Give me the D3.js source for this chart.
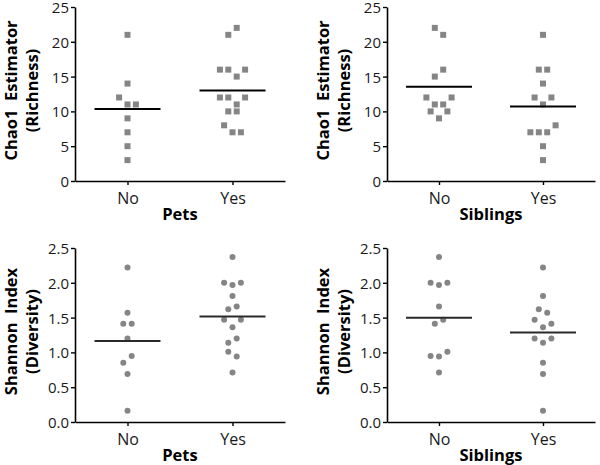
<!DOCTYPE html>
<html>
<head>
<meta charset="utf-8">
<script src="https://cdn.jsdelivr.net/npm/d3@7"></script>
<style>
  html, body { margin: 0; padding: 0; background: #fff; }
  svg { display: block; }
  text { font-family: "Open Sans", "Noto Sans", sans-serif; }
</style>
</head>
<body>
<svg id="chart" width="600" height="465"></svg>
<script>
// ---------- data ----------
const categories = ["No", "Yes"];

// Chao1 richness, grouped by pets
const chaoPetsNo  = [21, 14, 12, 11, 11, 9, 7, 5, 3];
const chaoPetsYes = [21, 22, 16, 16, 15, 16, 12, 12, 11, 12, 10, 10, 8, 7, 7];
// Chao1 richness, grouped by siblings
const chaoSibNo   = [22, 21, 15, 16, 12, 11, 11, 12, 10, 9, 10];
const chaoSibYes  = [21, 16, 16, 14, 12, 11, 12, 7, 7, 7, 8, 5, 3];

// Shannon diversity, grouped by pets
const shanPetsNo  = [2.22, 1.57, 1.41, 1.41, 1.20, 0.85, 0.95, 0.69, 0.16];
const shanPetsYes = [2.37, 2.00, 1.97, 2.00, 1.81, 1.62, 1.66, 1.47, 1.36, 1.47, 1.14, 1.20, 1.01, 0.94, 0.71];
// Shannon diversity, grouped by siblings
const shanSibNo   = [2.37, 2.00, 1.97, 2.00, 1.66, 1.41, 1.47, 0.95, 0.94, 1.01, 0.71];
const shanSibYes  = [2.22, 1.81, 1.62, 1.57, 1.47, 1.36, 1.41, 1.20, 1.14, 1.20, 0.85, 0.69, 0.16];

const chaoTicks = [0, 5, 10, 15, 20, 25];
const shanTicks = [0, 0.5, 1.0, 1.5, 2.0, 2.5];

const chaoTitle = ["Chao1  Estimator", "(Richness)"];
const shanTitle = ["Shannon  Index", "(Diversity)"];
const petsLabel = "Pets";
const sibLabel = "Siblings";

// ---------- layout ----------
const panels = [
  { left: 75,  right: 285, top: 7,   bottom: 181, groups: [chaoPetsNo, chaoPetsYes], ticks: chaoTicks, fmt: d3.format("d"),  ytitle: chaoTitle, xtitle: petsLabel, shape: "square" },
  { left: 387, right: 595, top: 7,   bottom: 181, groups: [chaoSibNo, chaoSibYes],   ticks: chaoTicks, fmt: d3.format("d"),  ytitle: chaoTitle, xtitle: sibLabel,  shape: "square" },
  { left: 75,  right: 285, top: 248, bottom: 422, groups: [shanPetsNo, shanPetsYes], ticks: shanTicks, fmt: d3.format(".1f"), ytitle: shanTitle, xtitle: petsLabel, shape: "circle" },
  { left: 387, right: 595, top: 248, bottom: 422, groups: [shanSibNo, shanSibYes],   ticks: shanTicks, fmt: d3.format(".1f"), ytitle: shanTitle, xtitle: sibLabel,  shape: "circle" }
];

const svg = d3.select("#chart");
const markerColor = "#858585";
const rowThreshold = 9;   // px: points closer than this share a row
const step = 8.4;         // px between neighbours in a row
const meanHalf = 33;

// lay out a group like a column scatter: close values share a row, row is centred
function layout(values, y) {
  const idx = d3.range(values.length).sort((a, b) => d3.descending(values[a], values[b]) || a - b);
  const rows = [];
  let cur = null;
  idx.forEach(i => {
    if (cur && Math.abs(y(values[i]) - y(values[cur[0]])) < rowThreshold) cur.push(i);
    else { cur = [i]; rows.push(cur); }
  });
  const off = new Array(values.length).fill(0);
  rows.forEach(r => {
    r.sort((a, b) => a - b);
    r.forEach((i, k) => { off[i] = (k - (r.length - 1) / 2) * step; });
  });
  return values.map((v, i) => ({ v, dx: off[i] }));
}

panels.forEach(p => {
  const g = svg.append("g");
  const x = d3.scalePoint().domain(categories).range([p.left, p.right]).padding(0.5);
  const y = d3.scaleLinear().domain([p.ticks[0], p.ticks[p.ticks.length - 1]]).range([p.bottom, p.top]);

  // y axis
  const ya = g.append("g").attr("transform", `translate(${p.left},0)`)
    .call(d3.axisLeft(y).tickValues(p.ticks).tickFormat(p.fmt).tickSize(4).tickSizeOuter(0).tickPadding(2));
  // x axis
  const xa = g.append("g").attr("transform", `translate(0,${p.bottom})`)
    .call(d3.axisBottom(x).tickSize(4).tickSizeOuter(0).tickPadding(4));
  [ya, xa].forEach(a => {
    a.select(".domain").attr("stroke", "#000").attr("stroke-width", 1.6);
    a.selectAll(".tick line").attr("stroke", "#000").attr("stroke-width", 1.4);
    a.selectAll(".tick text").attr("fill", "#1a1a1a").style("font-family", "'Open Sans', sans-serif");
  });
  ya.selectAll(".tick text").style("font-size", "15px").attr("dy", "0.36em");
  xa.selectAll(".tick text").style("font-size", "16px").attr("dy", null).attr("y", 22.5);

  // points
  p.groups.forEach((vals, gi) => {
    const cx = x(categories[gi]);
    const pts = layout(vals, y);
    if (p.shape === "square") {
      g.selectAll(null).data(pts).enter().append("rect")
        .attr("x", d => cx + d.dx - 3).attr("y", d => y(d.v) - 3)
        .attr("width", 6).attr("height", 6).attr("fill", markerColor);
    } else {
      g.selectAll(null).data(pts).enter().append("circle")
        .attr("cx", d => cx + d.dx).attr("cy", d => y(d.v))
        .attr("r", 3).attr("fill", markerColor);
    }
    const m = d3.mean(vals);
    g.append("line")
      .attr("x1", cx - meanHalf).attr("x2", cx + meanHalf)
      .attr("y1", y(m)).attr("y2", y(m))
      .attr("stroke", p.shape === "square" ? "#000" : "#2a2a2a").attr("stroke-width", 2);
  });

  // y title (two lines)
  const cy = (p.top + p.bottom) / 2 - 3.5;
  [p.left - 58, p.left - 37].forEach((bx, li) => {
    g.append("text")
      .attr("transform", `translate(${bx},${cy}) rotate(-90)`)
      .attr("text-anchor", "middle")
      .style("white-space", "pre")
      .style("font-size", "16.5px").style("font-weight", "bold")
      .attr("fill", "#000")
      .text(p.ytitle[li]);
  });
  // x title
  g.append("text")
    .attr("x", (p.left + p.right) / 2).attr("y", p.bottom + 39)
    .attr("text-anchor", "middle")
    .style("font-size", "16.5px").style("font-weight", "bold")
    .attr("fill", "#000")
    .text(p.xtitle);
});
</script>
</body>
</html>
